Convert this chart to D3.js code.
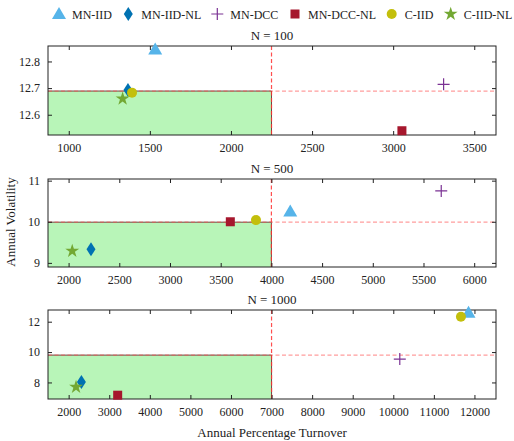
<!DOCTYPE html>
<html>
<head>
<meta charset="utf-8">
<script src="https://cdn.jsdelivr.net/npm/d3@7"></script>
<style>
body{margin:0;background:#fff;}
</style>
</head>
<body>
<div id="chart"></div>
<script>
// models, in legend order
var models=['MN-IID','MN-IID-NL','MN-DCC','MN-DCC-NL','C-IID','C-IID-NL'];
var colors=['#56b4e9','#0072b2','#7b3294','#a6172d','#c3bf0c','#73a833'];
var shapes=['triangle','diamond','plus','square','circle','star'];

var panelTitles=['N = 100','N = 500','N = 1000'];

// turnover (x) and volatility (y) per panel, in model order
var turnover100=[1533,1365,3311,3054,1390,1332];
var vol100=[12.845,12.693,12.714,12.54,12.683,12.66];
var turnover500=[4186,2221,5675,3595,3848,2036];
var vol500=[10.25,9.33,10.75,10.0,10.04,9.29];
var turnover1000=[11854,2314,10160,3208,11667,2182];
var vol1000=[12.59,8.03,9.54,7.16,12.33,7.7];

// threshold box per panel (turnover, volatility)
var thrTurnover=[2250,4000,7000];
var thrVol=[12.689,9.99,9.8];

var xDomains=[[872,3634],[1797,6215],[1491,12531]];
var yDomains=[[12.524,12.858],[8.9,11.04],[6.91,12.77]];
var xTicks=[[1000,1500,2000,2500,3000,3500],[2000,2500,3000,3500,4000,4500,5000,5500,6000],[2000,3000,4000,5000,6000,7000,8000,9000,10000,11000,12000]];
var yTicks=[[12.6,12.7,12.8],[9,10,11],[8,10,12]];
var yFormats=['.1f','d','d'];

var xs=[turnover100,turnover500,turnover1000];
var ys=[vol100,vol500,vol1000];

var width=514,height=441;
var left=48,right=496;
var tops=[46,179,310],bottoms=[135,267,399];
var serif='Liberation Serif';

var svg=d3.select('#chart').append('svg').attr('width',width).attr('height',height);

function marker(g,shape,color){
    if(shape=='triangle'){
        g.append('path').attr('d','M0,-7L7,5L-7,5Z').attr('fill',color);
    } else if(shape=='diamond'){
        g.append('path').attr('d','M0,-7L4.5,0L0,7L-4.5,0Z').attr('fill',color);
    } else if(shape=='plus'){
        g.append('path').attr('d','M-6,0H6M0,-6V6').attr('stroke',color).attr('stroke-width',1.2);
    } else if(shape=='square'){
        g.append('rect').attr('x',-4.5).attr('y',-4.5).attr('width',9).attr('height',9).attr('fill',color);
    } else if(shape=='circle'){
        g.append('circle').attr('r',5).attr('fill',color);
    } else if(shape=='star'){
        g.append('path').attr('d',d3.symbol(d3.symbolStar,60)()).attr('fill',color);
    }
}

panelTitles.forEach(function(title,p){
    var x=d3.scaleLinear().domain(xDomains[p]).range([left,right]);
    var y=d3.scaleLinear().domain(yDomains[p]).range([bottoms[p],tops[p]]);
    var g=svg.append('g');
    var vx=x(thrTurnover[p]),hy=y(thrVol[p]);

    // green region (edge drawn on top and right)
    g.append('rect')
        .attr('x',left).attr('y',hy)
        .attr('width',vx-left).attr('height',bottoms[p]-hy)
        .attr('fill','#b8f5b8');
    g.append('path')
        .attr('d','M'+left+','+hy+'H'+vx+'V'+bottoms[p])
        .attr('fill','none').attr('stroke','#6b4a44').attr('stroke-width',1);

    // threshold lines
    g.append('line')
        .attr('x1',left).attr('x2',right)
        .attr('y1',hy).attr('y2',hy)
        .attr('stroke','#ff4d4d').attr('stroke-opacity',0.55)
        .attr('stroke-width',1.3).attr('stroke-dasharray','4,2.5');
    g.append('line')
        .attr('x1',vx).attr('x2',vx)
        .attr('y1',tops[p]).attr('y2',bottoms[p])
        .attr('stroke','#ff3030').attr('stroke-opacity',0.85)
        .attr('stroke-width',1.2).attr('stroke-dasharray','4,2.5');

    // axes, ticks inward on all sides
    g.append('g').attr('transform','translate(0,'+bottoms[p]+')')
        .call(d3.axisBottom(x).tickValues(xTicks[p]).tickSizeInner(-4).tickSizeOuter(0).tickPadding(8).tickFormat(d3.format('d')));
    g.append('g').attr('transform','translate(0,'+tops[p]+')')
        .call(d3.axisTop(x).tickValues(xTicks[p]).tickSizeInner(-4).tickSizeOuter(0).tickFormat(''));
    g.append('g').attr('transform','translate('+left+',0)')
        .call(d3.axisLeft(y).tickValues(yTicks[p]).tickSizeInner(-4).tickSizeOuter(0).tickPadding(8).tickFormat(d3.format(yFormats[p])));
    g.append('g').attr('transform','translate('+right+',0)')
        .call(d3.axisRight(y).tickValues(yTicks[p]).tickSizeInner(-4).tickSizeOuter(0).tickFormat(''));
    g.selectAll('.domain').remove();
    g.selectAll('.tick line').attr('stroke','#222');
    g.selectAll('.tick text').attr('fill','#222').attr('font-size',12);

    g.append('rect')
        .attr('x',left).attr('y',tops[p])
        .attr('width',right-left).attr('height',bottoms[p]-tops[p])
        .attr('fill','none').attr('stroke','#222').attr('stroke-width',1);

    g.append('text')
        .attr('x',(left+right)/2).attr('y',tops[p]-6)
        .attr('text-anchor','middle').attr('font-size',13)
        .text(title);

    // points
    models.forEach(function(m,i){
        var mg=g.append('g').attr('transform','translate('+x(xs[p][i])+','+y(ys[p][i])+')');
        marker(mg,shapes[i],colors[i]);
    });
});

// legend
var legendX=[59,128.3,217.3,295,391.7,450.7];
models.forEach(function(m,i){
    var lg=svg.append('g').attr('transform','translate('+legendX[i]+',14)');
    marker(lg,shapes[i],colors[i]);
    lg.append('text').attr('x',13).attr('y',4.5).attr('font-size',12).text(m);
});

svg.append('text')
    .attr('transform','translate(15,222) rotate(-90)')
    .attr('text-anchor','middle').attr('font-size',13)
    .text('Annual Volatility');
svg.append('text')
    .attr('x',272).attr('y',437)
    .attr('text-anchor','middle').attr('font-size',13)
    .text('Annual Percentage Turnover');

svg.selectAll('g').attr('font-family',null);
svg.selectAll('text').attr('font-family',serif).style('font-family',serif).attr('fill','#222');
</script>
</body>
</html>
